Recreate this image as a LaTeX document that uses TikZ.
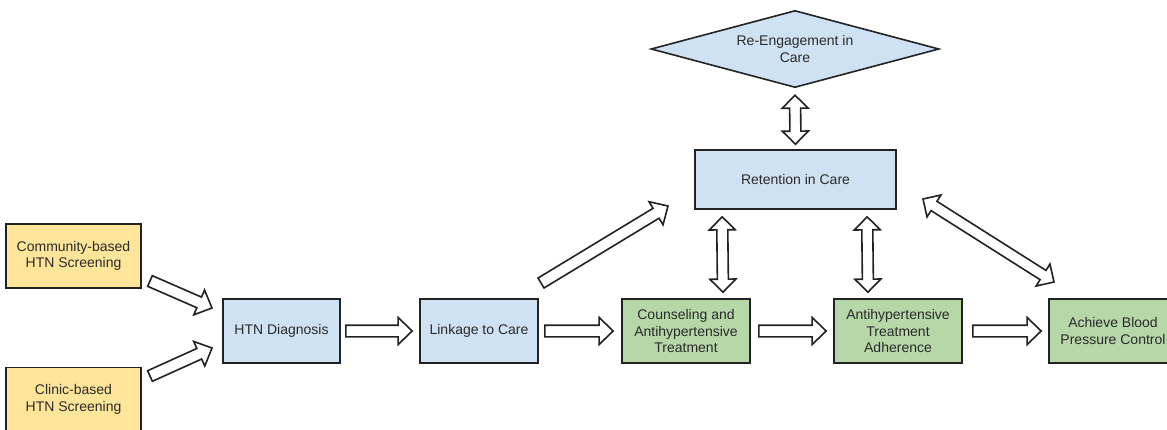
\documentclass[tikz,border=0pt]{standalone}
\usepackage{fontspec}
\setmainfont{Liberation Sans}
\usetikzlibrary{calc}
\definecolor{yel}{HTML}{FFE599}
\definecolor{blu}{HTML}{CFE2F3}
\definecolor{grn}{HTML}{B6D7A8}
\definecolor{edge}{HTML}{222222}
\definecolor{txt}{HTML}{2A2A2A}
\tikzset{
  lbl/.style={align=center, text=txt, font=\fontsize{14}{16.4}\selectfont},
  box/.style={lbl, draw=edge, line width=1.7pt, rectangle, inner sep=0pt, minimum height=64pt},
  yelbox/.style={box, fill=yel, minimum width=135pt},
  blubox/.style={box, fill=blu},
  grnbox/.style={box, fill=grn, minimum width=128pt},
  blk/.style={draw=edge, line width=1.6pt, fill=white, line join=miter}
}
\newcommand\sarrow[2]{%
  \draw[blk] let \p1=#1, \p2=#2, \n1={atan2(\y2-\y1,\x2-\x1)} in
    ($(\p1)+(\n1+90:5.8pt)$) --
    ($(\p2)+(\n1+180:14pt)+(\n1+90:5.8pt)$) --
    ($(\p2)+(\n1+180:14pt)+(\n1+90:13.5pt)$) --
    (\p2) --
    ($(\p2)+(\n1+180:14pt)+(\n1-90:13.5pt)$) --
    ($(\p2)+(\n1+180:14pt)+(\n1-90:5.8pt)$) --
    ($(\p1)+(\n1-90:5.8pt)$) -- cycle;}
\newcommand\darrow[2]{%
  \draw[blk] let \p1=#1, \p2=#2, \n1={atan2(\y2-\y1,\x2-\x1)} in
    (\p1) --
    ($(\p1)+(\n1:13pt)+(\n1+90:13pt)$) --
    ($(\p1)+(\n1:13pt)+(\n1+90:5.5pt)$) --
    ($(\p2)+(\n1+180:13pt)+(\n1+90:5.5pt)$) --
    ($(\p2)+(\n1+180:13pt)+(\n1+90:13pt)$) --
    (\p2) --
    ($(\p2)+(\n1+180:13pt)+(\n1-90:13pt)$) --
    ($(\p2)+(\n1+180:13pt)+(\n1-90:5.5pt)$) --
    ($(\p1)+(\n1:13pt)+(\n1-90:5.5pt)$) --
    ($(\p1)+(\n1:13pt)+(\n1-90:13pt)$) -- cycle;}
\begin{document}
\begin{tikzpicture}[x=1pt,y=-1pt]
\fill[white] (0,0) rectangle (1167,429);
\useasboundingbox (0,0) rectangle (1167,429);

\node[yelbox] (comm) at (73.5,256) {Community-based\\HTN Screening};
\node[yelbox] (clin) at (73.5,399.5) {Clinic-based\\HTN Screening};
\node[blubox, minimum width=117pt] (dx) at (281.5,331) {HTN Diagnosis};
\node[blubox, minimum width=118pt] (link) at (479,331) {Linkage to Care};
\node[grnbox] (couns) at (686,331) {Counseling and\\Antihypertensive\\Treatment};
\node[grnbox] (adh) at (898,331) {Antihypertensive\\Treatment\\Adherence};
\node[grnbox] (bp) at (1113,331) {Achieve Blood\\Pressure Control};
\node[blubox, minimum width=201pt, minimum height=59pt] (ret) at (795.5,179.5) {Retention in Care};

% diamond
\path node[inner sep=0pt, minimum width=287pt, minimum height=76pt] (reeng) at (795,49) {};
\draw[draw=edge, line width=1.6pt, fill=blu, line join=miter]
  (reeng.west) -- (reeng.north) -- (reeng.east) -- (reeng.south) -- cycle;
\node[lbl] (reengtext) at (reeng.center) {Re-Engagement in\\Care};

% arrows
\coordinate (c1a) at (150,281);
\coordinate (c1b) at (212,308);
\coordinate (c2a) at (150,376);
\coordinate (c2b) at (212,348);
\sarrow{(c1a)}{(c1b)}
\sarrow{(c2a)}{(c2b)}
\sarrow{($(dx.east)+(5,0)$)}{($(link.west)+(-7,0)$)}
\sarrow{($(link.east)+(6,0)$)}{($(couns.west)+(-8,0)$)}
\sarrow{($(couns.east)+(8,0)$)}{($(adh.west)+(-7,0)$)}
\sarrow{($(adh.east)+(10,0)$)}{($(bp.west)+(-7,0)$)}
\coordinate (d1a) at (541,283);
\coordinate (d1b) at (668,206);
\sarrow{(d1a)}{(d1b)}
\darrow{($(reeng.south)+(0,8)$)}{($(ret.north)+(0,-5)$)}
\darrow{($(ret.south west)+(28,7)$)}{($(couns.north)+(37,-6)$)}
\darrow{($(ret.south west)+(173,7)$)}{($(adh.north)+(-30,-6)$)}
\coordinate (d2a) at (923,199);
\coordinate (d2b) at (1054,282);
\darrow{(d2a)}{(d2b)}
\end{tikzpicture}
\end{document}
